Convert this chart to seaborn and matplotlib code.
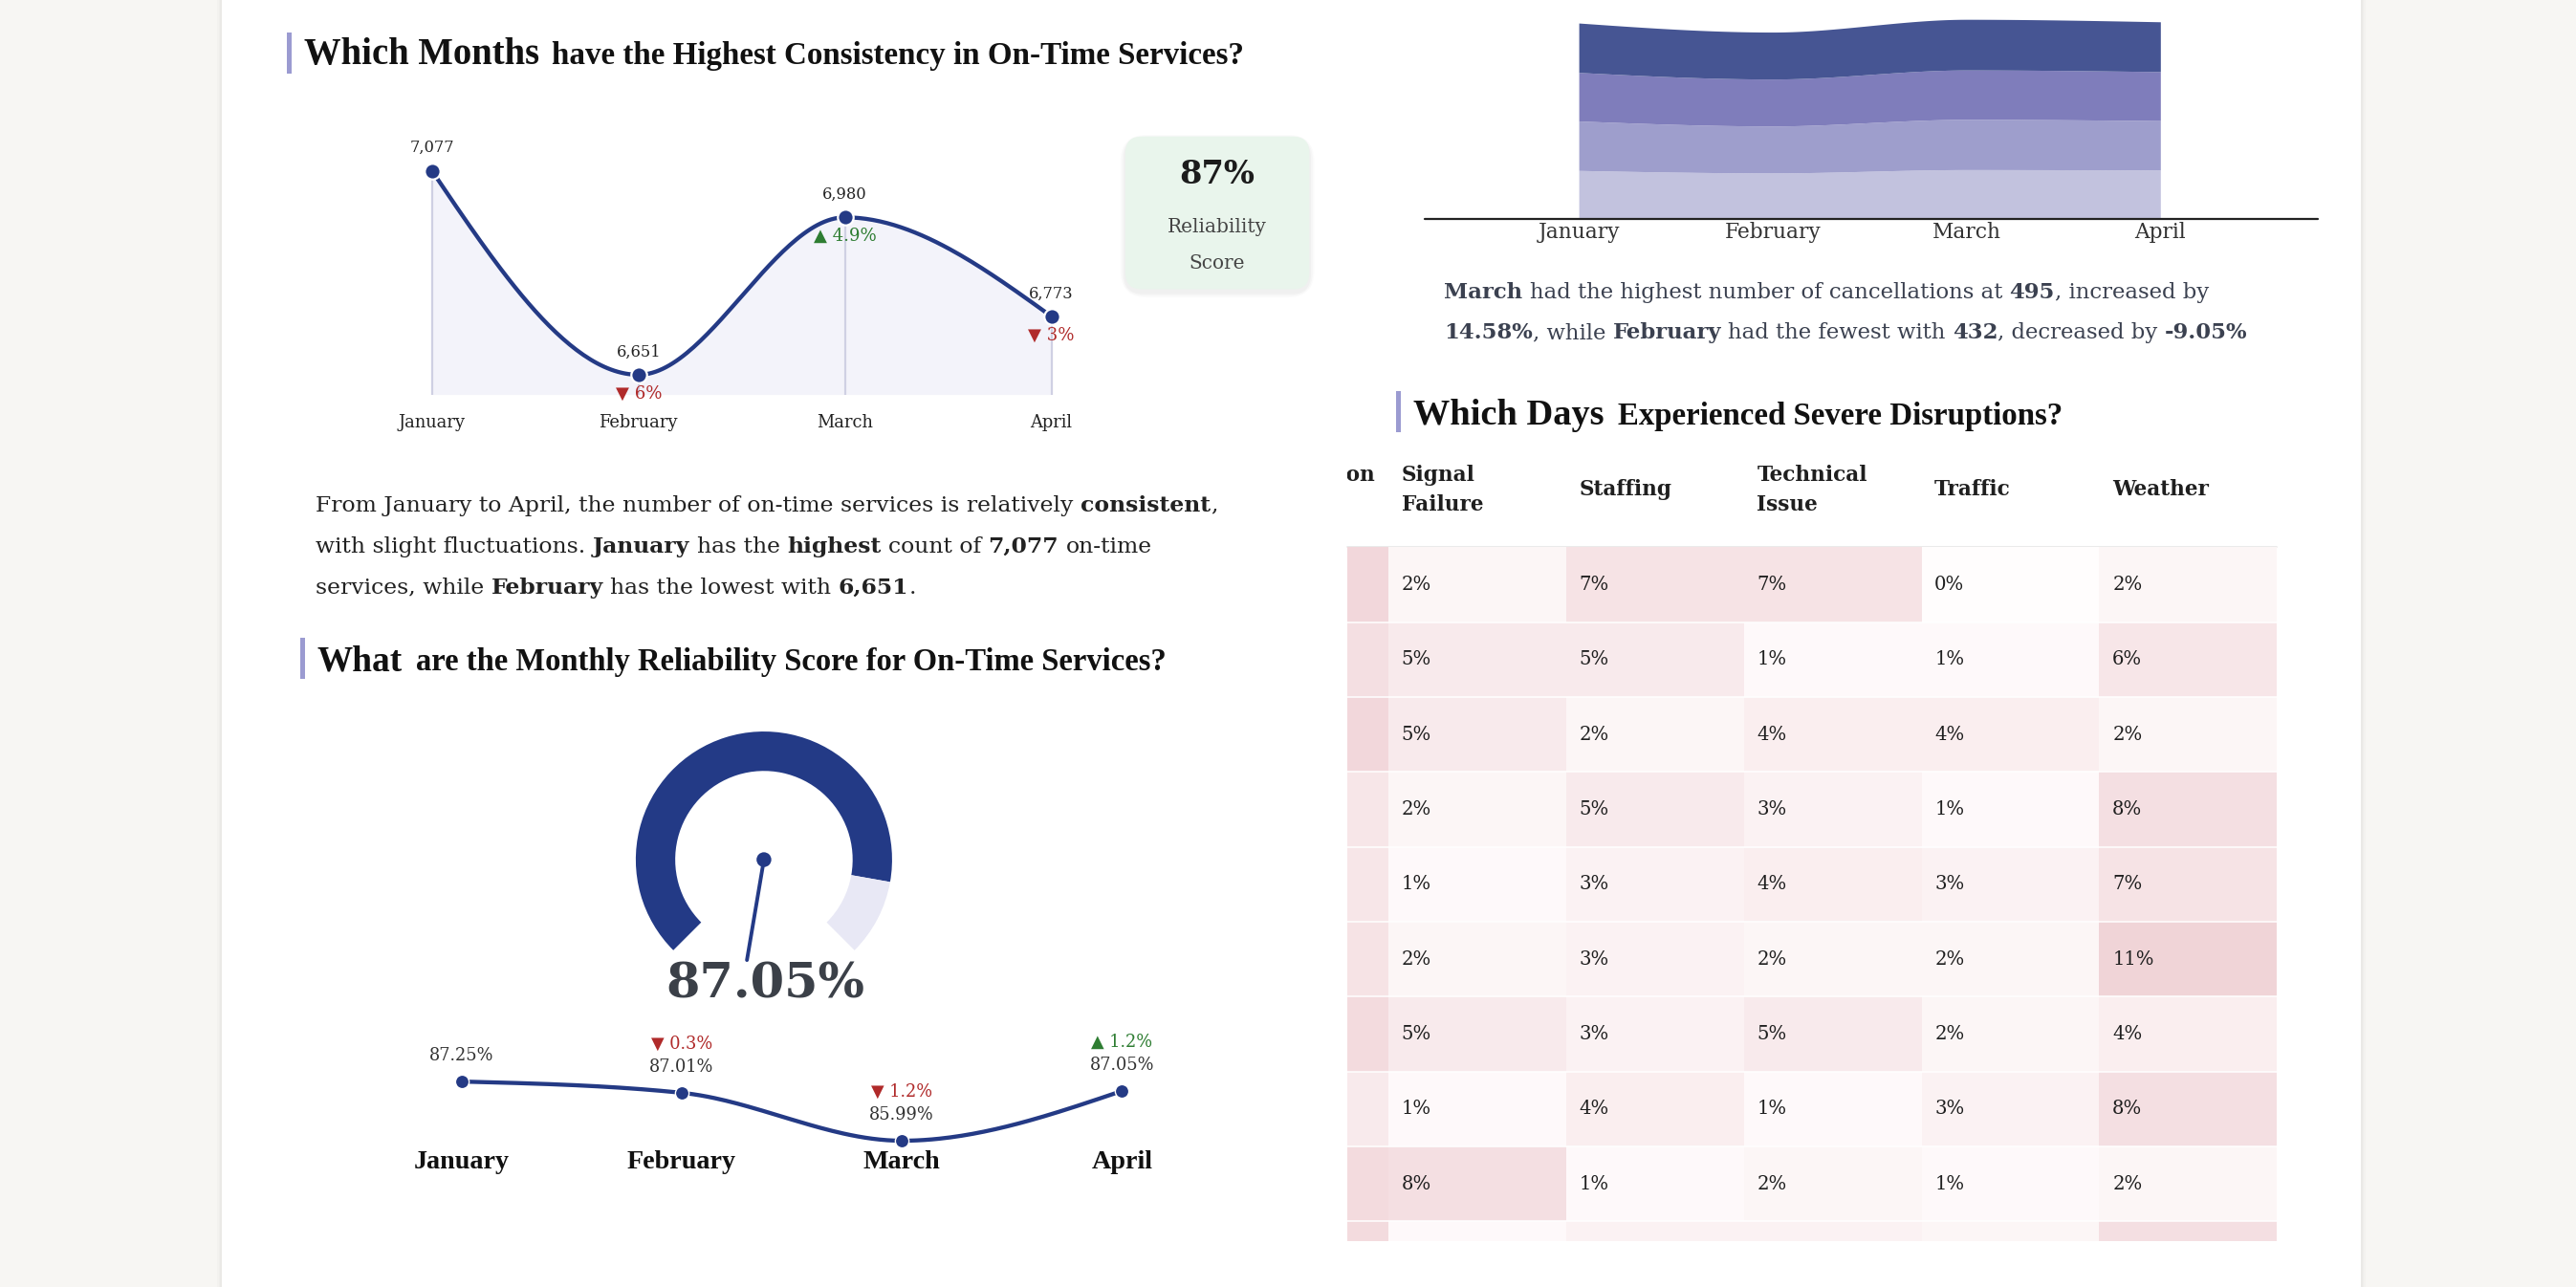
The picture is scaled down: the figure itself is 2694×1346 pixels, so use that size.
import numpy as np
import pandas as pd
import matplotlib
matplotlib.use("Agg")
import matplotlib.pyplot as plt
import seaborn as sns
from matplotlib.patches import Rectangle, FancyBboxPatch, Wedge, Circle
from matplotlib.colors import LinearSegmentedColormap

# ---------------- data ----------------
months = ["January", "February", "March", "April"]
on_time = [7077, 6651, 6980, 6773]
on_time_change = ["", "▼ 6%", "▲ 4.9%", "▼ 3%"]
on_time_up = [None, False, True, False]
kpi_value = "87%"
kpi_label = ["Reliability", "Score"]

reliability = [87.25, 87.01, 85.99, 87.05]
reliability_change = ["", "▼ 0.3%", "▼ 1.2%", "▲ 1.2%"]
reliability_up = [None, False, False, True]
gauge_value = 87.05

cancel_layer_1 = [117, 111, 119, 118]
cancel_layer_2 = [120, 114, 122, 120]
cancel_layer_3 = [118, 114, 120, 119]
cancel_layer_4 = [120, 114, 123, 121]

disruption_cols = ["Construction\nWork", "Signal\nFailure", "Staffing",
                   "Technical\nIssue", "Traffic", "Weather"]
construction = [10, 8, 10, 6, 6, 7, 9, 5, 9, 9]
signal_failure = [2, 5, 5, 2, 1, 2, 5, 1, 8, 1]
staffing = [7, 5, 2, 5, 3, 3, 3, 4, 1, 3]
technical_issue = [7, 1, 4, 3, 4, 2, 5, 1, 2, 3]
traffic = [0, 1, 4, 1, 3, 2, 2, 3, 1, 2]
weather = [2, 6, 2, 8, 7, 11, 4, 8, 2, 8]

# ---------------- setup ----------------
sns.set_theme(style="white")
BODY = ["DejaVu Serif", "DejaVu Sans"]
HEAD = ["Liberation Serif", "DejaVu Serif"]
plt.rcParams["font.family"] = BODY

W, H = 1568.0, 783.0
S = 2694.0 / W
fig = plt.figure(figsize=(26.94, 13.46), dpi=100)
fig.patch.set_facecolor("#f7f6f3")
fig.canvas.draw()
R = fig.canvas.get_renderer()

NAVY = "#243a85"
RED = "#b02a2a"
GREEN = "#2e7d32"
TXT = "#222222"


def tw(s, size, weight="normal", family=None):
    t = fig.text(0, 0, s, fontsize=size, fontweight=weight, family=family or BODY)
    w = t.get_window_extent(R).width
    t.remove()
    return w / S


def adv(s, size, weight="normal", family=None):
    return tw("|" + s + "|", size, weight, family) - tw("||", size, weight, family)


def fit(s, target, weight="normal", family=None):
    return 10.0 * target / tw(s, 10, weight, family)


def fit_runs(parts, target, family=None):
    tot = sum(adv(s, 10, "bold" if b else "normal", family) for s, b in parts)
    return 10.0 * target / tot


def runs(x, y, parts, size, color=TXT, family=None):
    cur = x
    for s, b in parts:
        wt = "bold" if b else "normal"
        lead = len(s) - len(s.lstrip(" "))
        core = s.strip(" ")
        off = adv(" " * lead, size, wt, family) if lead else 0
        if core:
            fig.text((cur + off) / W, 1 - y / H, core, fontsize=size, fontweight=wt,
                     family=family or BODY, color=color, ha="left", va="baseline")
        cur += adv(s, size, wt, family)
    return cur


def ftext(x, y, s, size, **kw):
    kw.setdefault("ha", "center")
    kw.setdefault("va", "center")
    return fig.text(x / W, 1 - y / H, s, fontsize=size, **kw)


def add_ax(x0, y0, x1, y1, z=2):
    ax = fig.add_axes([x0 / W, 1 - y1 / H, (x1 - x0) / W, (y1 - y0) / H], zorder=z)
    ax.patch.set_alpha(0)
    ax.axis("off")
    return ax


def smooth(xv, yv, n=60):
    x = np.asarray(xv, float)
    y = np.asarray(yv, float)
    N = len(x)
    h = np.diff(x)
    s = np.diff(y) / h
    m = np.zeros(N)
    for i in range(1, N - 1):
        p = (s[i - 1] * h[i] + s[i] * h[i - 1]) / (h[i - 1] + h[i])
        m[i] = (np.sign(s[i - 1]) + np.sign(s[i])) * min(abs(s[i - 1]), abs(s[i]), 0.5 * abs(p))
    m[0] = (3 * s[0] - m[1]) / 2
    m[-1] = (3 * s[-1] - m[-2]) / 2
    X, Y = [], []
    for i in range(N - 1):
        t = np.linspace(0, 1, n, endpoint=(i == N - 2))
        h00 = 2 * t**3 - 3 * t**2 + 1
        h10 = t**3 - 2 * t**2 + t
        h01 = -2 * t**3 + 3 * t**2
        h11 = t**3 - t**2
        X.append(x[i] + t * h[i])
        Y.append(h00 * y[i] + h10 * h[i] * m[i] + h01 * y[i + 1] + h11 * h[i] * m[i + 1])
    return np.concatenate(X), np.concatenate(Y)


PT = S * 0.72  # display px -> points

# ---------------- background ----------------
bg = fig.add_axes([0, 0, 1, 1], zorder=0)
bg.set_xlim(0, W)
bg.set_ylim(H, 0)
bg.axis("off")
bg.add_patch(Rectangle((135, 0), 1302, H, fc="white", ec="none"))
for i, a in enumerate([0.05, 0.03, 0.015]):
    bg.add_patch(Rectangle((134 - i, 0), 1, H, fc="#000000", alpha=a, ec="none"))
    bg.add_patch(Rectangle((1437 + i, 0), 1, H, fc="#000000", alpha=a, ec="none"))
for (bx, by0, by1) in [(176, 20, 45), (184, 388, 413), (851, 238, 263)]:
    bg.add_patch(Rectangle((bx - 1.5, by0), 3, by1 - by0, fc="#9b9bd1", ec="none"))
# KPI box with soft shadow
for k, a in enumerate([0.025, 0.02, 0.015]):
    d = 2 + 2 * k
    bg.add_patch(FancyBboxPatch((685 - d / 2, 85 - d / 2), 112 + d, 93 + d,
                                boxstyle="round,pad=0,rounding_size=%d" % (10 + d),
                                fc="#000000", alpha=a, ec="none"))
bg.add_patch(FancyBboxPatch((685, 83), 112, 93, boxstyle="round,pad=0,rounding_size=10",
                            fc="#e9f5ec", ec="none"))
# heatmap header rule
bg.plot([820, 1386], [333, 333], color="#e6e6e6", lw=1.2)

# ---------------- titles ----------------
def title(x, y, big, rest, wbig, wrest, gap):
    sb = fit(big, wbig, "bold", HEAD)
    sr = fit(rest, wrest, "bold", HEAD)
    fig.text(x / W, 1 - y / H, big, fontsize=sb, fontweight="bold", family=HEAD,
             color="#111111", ha="left", va="baseline")
    fig.text((x + wbig + gap) / W, 1 - y / H, rest, fontsize=sr, fontweight="bold",
             family=HEAD, color="#111111", ha="left", va="baseline")

title(185, 39, "Which Months", "have the Highest Consistency in On-Time Services?", 143, 422, 8)
title(193, 408, "What", "are the Monthly Reliability Score for On-Time Services?", 52, 459, 8)
title(860, 258, "Which Days", "Experienced Severe Disruptions?", 116, 272, 9)

# ---------------- chart 1: on-time services ----------------
x_first, x_step = 263.0, (640.0 - 263.0) / 3
k1 = (228 - 104) / (on_time[0] - on_time[1])
y_bot = on_time[1] - (240 - 228) / k1
y_top = on_time[0] + (104 - 80) / k1
ax1 = add_ax(230, 80, 673, 240)
xi = np.arange(len(months))
xs, ys = smooth(xi, on_time)
ax1.fill_between(xs, ys, y_bot, color="#f3f3fa", lw=0, zorder=1)
ax1.vlines(xi, y_bot, on_time, color="#cfd0e3", lw=1.6, zorder=2)
ax1.plot(xs, ys, color=NAVY, lw=3.1, zorder=3, solid_capstyle="round")
sns.scatterplot(x=xi, y=on_time, ax=ax1, s=140, color=NAVY, edgecolor="white",
                linewidth=1.6, zorder=5, legend=False)
ax1.set_xlim(-(x_first - 230) / x_step, 3 + (673 - 640) / x_step)
ax1.set_ylim(y_bot, y_top)
ax1.axis("off")
fs_val = fit("7,077", 27)
fs_chg = fit("▼ 6%", 28)
fs_mon = fit("January", 41)
for i, v in enumerate(on_time):
    ax1.annotate(f"{v:,}", (i, v), xytext=(0, 14 * PT), textcoords="offset points",
                 ha="center", va="center", fontsize=fs_val, color=TXT, annotation_clip=False)
    if on_time_change[i]:
        ax1.annotate(on_time_change[i], (i, v), xytext=(0, -11.5 * PT), textcoords="offset points",
                     ha="center", va="center", fontsize=fs_chg,
                     color=GREEN if on_time_up[i] else RED, annotation_clip=False)
    ax1.annotate(months[i], (i, y_bot), xytext=(0, -17 * PT), textcoords="offset points",
                 ha="center", va="center", fontsize=fs_mon, color=TXT, annotation_clip=False)

# KPI
ftext(741, 106, kpi_value, fit(kpi_value, 46, "bold"), fontweight="bold", color="#1c1c1c")
fs_kpi = fit(kpi_label[0], 60)
ftext(741, 138, kpi_label[0], fs_kpi, color="#444444")
ftext(741, 160, kpi_label[1], fs_kpi, color="#444444")

# paragraph 1
p1 = [
    [("From January to April, the number of on-time services is relatively ", False),
     ("consistent", True), (",", False)],
    [("with slight fluctuations. ", False), ("January", True), (" has the ", False),
     ("highest", True), (" count of ", False), (f"{on_time[0]:,}", True), (" on-time", False)],
    [("services, while ", False), ("February", True), (" has the lowest with ", False),
     (f"{on_time[1]:,}", True), (".", False)],
]
fs_p1 = fit_runs(p1[0], 551)
for line, yb in zip(p1, [311, 336, 361]):
    runs(192, yb, line, fs_p1, color=TXT)

# ---------------- chart 2: gauge ----------------
gax = add_ax(365, 423, 565, 623)
gax.set_xlim(-100, 100)
gax.set_ylim(-100, 100)
gax.set_aspect("equal")
theta_end = 225 - 270 * gauge_value / 100
gax.add_patch(Wedge((0, 0), 78, theta_end, 225, width=24, fc="#233a86", ec="none"))
gax.add_patch(Wedge((0, 0), 78, -45, theta_end, width=24, fc="#e8e8f5", ec="none"))
needle_deg = -99.6
gax.plot([0, 62 * np.cos(np.radians(needle_deg))], [0, 62 * np.sin(np.radians(needle_deg))],
         color="#233a86", lw=2.8, solid_capstyle="round")
gax.add_patch(Circle((0, 0), 4.5, fc="#233a86", ec="none"))
gax.axis("off")
ftext(466, 599, f"{gauge_value:.2f}%", fit(f"{gauge_value:.2f}%", 121, "bold"),
      fontweight="bold", color="#3b4048")

# ---------------- chart 3: monthly reliability line ----------------
x3_first, x3_step = 281.0, (683.0 - 281.0) / 3
k3 = (694 - 658) / (reliability[0] - reliability[2])
r_top = reliability[0] + (658 - 620) / k3
r_bot = reliability[2] - (720 - 694) / k3
ax3 = add_ax(248, 620, 716, 720)
xs3, ys3 = smooth(xi, reliability)
ax3.plot(xs3, ys3, color=NAVY, lw=3.1, zorder=3)
sns.scatterplot(x=xi, y=reliability, ax=ax3, s=105, color=NAVY, edgecolor="white",
                linewidth=1.0, zorder=5, legend=False)
ax3.set_xlim(-(x3_first - 248) / x3_step, 3 + (716 - 683) / x3_step)
ax3.set_ylim(r_bot, r_top)
ax3.axis("off")
fs_rv = fit("87.25%", 39)
fs_rc = fit("▼ 0.3%", 37)
for i, v in enumerate(reliability):
    ax3.annotate(f"{v:.2f}%", (i, v), xytext=(0, 15.5 * PT), textcoords="offset points",
                 ha="center", va="center", fontsize=fs_rv, color="#333333", annotation_clip=False)
    if reliability_change[i]:
        ax3.annotate(reliability_change[i], (i, v), xytext=(0, 30 * PT), textcoords="offset points",
                     ha="center", va="center", fontsize=fs_rc,
                     color=GREEN if reliability_up[i] else RED, annotation_clip=False)
fs_m3 = fit("February", 67, "bold", HEAD)
for i, m in enumerate(months):
    ftext(x3_first + i * x3_step, 707, m, fs_m3, fontweight="bold", family=HEAD, color="#111111")

# ---------------- chart 4: cancellations stream ----------------
x4_first, x4_step = 961.0, (1315.0 - 961.0) / 3
ax4 = add_ax(867, 0, 1411, 133)
layers = [cancel_layer_1, cancel_layer_2, cancel_layer_3, cancel_layer_4]
layer_colors = ["#c2c2de", "#9e9ecc", "#7f7dbb", "#465593"]
base = np.zeros(len(months))
scale4 = 119.0 / sum(l[0] for l in layers)  # display px per unit
for vals, col in zip(layers, layer_colors):
    top = base + np.asarray(vals, float)
    xt, yt = smooth(xi, top)
    if base.any():
        _, lower = smooth(xi, base)
    else:
        lower = np.zeros_like(yt)
    ax4.fill_between(xt, lower, yt, color=col, lw=0)
    base = top
ax4.set_xlim(-(x4_first - 867) / x4_step, 3 + (1411 - 1315) / x4_step)
ax4.set_ylim(0, 133 / scale4)
ax4.axis("off")
ax4.axhline(0, color="#222222", lw=1.6, clip_on=False)
fs_m4 = fit("January", 50)
for i, m in enumerate(months):
    ax4.annotate(m, (i, 0), xytext=(0, -8.5 * PT), textcoords="offset points",
                 ha="center", va="center", fontsize=fs_m4, color="#333333", annotation_clip=False)

# paragraph 2
p2 = [
    [("March", True), (" had the highest number of cancellations at ", False), ("495", True),
     (", increased by", False)],
    [("14.58%", True), (", while ", False), ("February", True), (" had the fewest with ", False),
     ("432", True), (", decreased by ", False), ("-9.05%", True)],
]
fs_p2 = fit_runs(p2[1], 491)
for line, yb in zip(p2, [181.5, 206]):
    runs(879, yb, line, fs_p2, color="#3b4150")

# ---------------- chart 5: disruption heatmap ----------------
table = pd.DataFrame(
    np.column_stack([construction, signal_failure, staffing, technical_issue, traffic, weather]),
    columns=disruption_cols)
cmap = LinearSegmentedColormap.from_list("pinks", ["#fffdfd", "#efd0d4"])
col_w = (1386 - 845) / 5.0
row_h = (743 - 333) / 9.0
x_left = (820 - (845 - col_w)) / col_w
y_bottom = (755 - 333) / row_h
hax = add_ax(820, 333, 1386, 755)
sns.heatmap(table, ax=hax, cmap=cmap, vmin=0, vmax=12, cbar=False, linewidths=0)
hax.hlines(np.arange(1, table.shape[0]), 0, table.shape[1], color="white", lw=1.1)
hax.set_xlim(x_left, len(disruption_cols))
hax.set_ylim(y_bottom, 0)
hax.axis("off")
pad = 8.0 / col_w
fs_cell = fit("2%", 18)
for i in range(table.shape[0]):
    for j in range(table.shape[1]):
        hax.text(j + pad, i + 0.5, f"{table.iat[i, j]}%", ha="left", va="center",
                 fontsize=fs_cell, color="#1f1f1f", clip_on=True)

hdr = add_ax(820, 271, 1386, 325)
hdr.set_xlim(x_left, len(disruption_cols))
hdr.set_ylim(1, 0)
fs_hdr = fit("Signal", 45, "bold")
for j, c in enumerate(disruption_cols):
    hdr.text(j + pad, 0.5, c, ha="left", va="center", fontsize=fs_hdr, fontweight="bold",
             color="#1f1f1f", linespacing=1.55, clip_on=True)

fig.savefig("out.png", dpi=100, facecolor=fig.get_facecolor())
